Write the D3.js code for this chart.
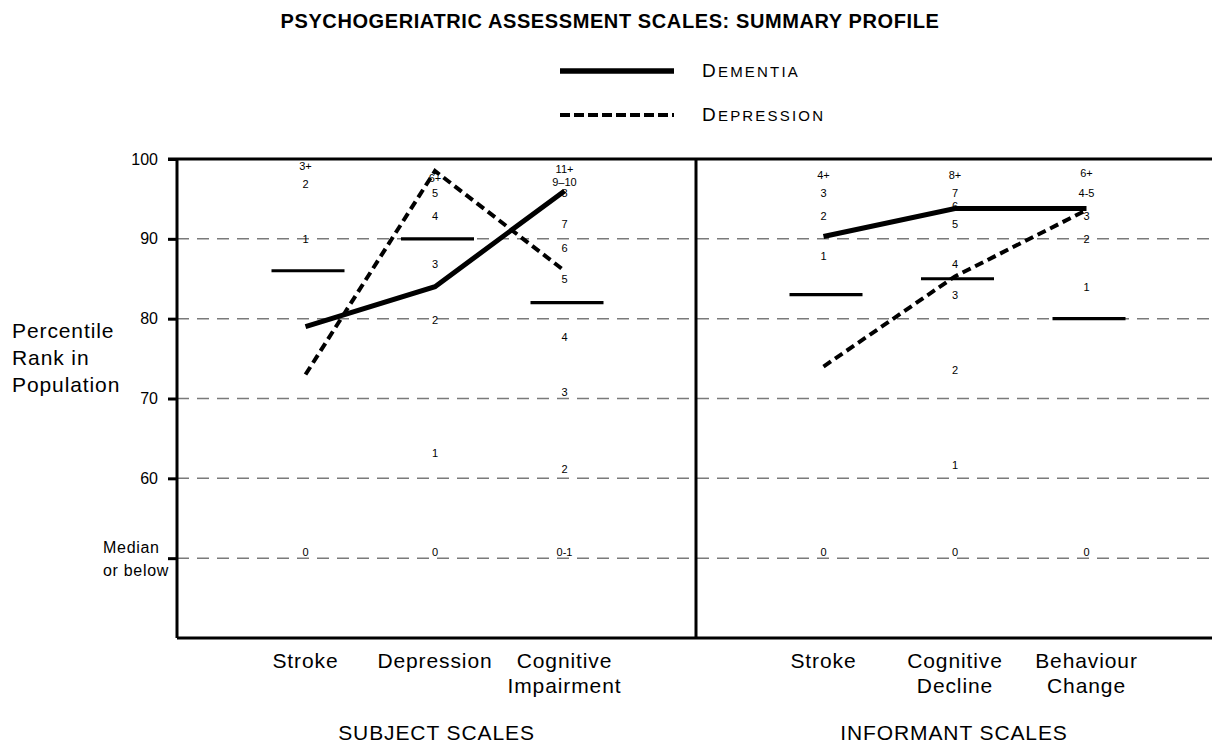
<!DOCTYPE html>
<html>
<head>
<meta charset="utf-8">
<script src="https://cdn.jsdelivr.net/npm/d3@7"></script>
<style>
  body { margin: 0; background: #fff; }
  text { font-family: "Liberation Sans", Arial, sans-serif; fill: #000; }
</style>
</head>
<body>
<svg id="chart" width="1218" height="745"></svg>
<script>
// scales on each side of the profile
var subjectScales = ['Stroke', 'Depression', 'Cognitive Impairment'];
var informantScales = ['Stroke', 'Cognitive Decline', 'Behaviour Change'];

// percentile rank of the two diagnostic profiles
var subjectDementia = [79, 84, 96];
var subjectDepression = [73, 98.5, 86];
var informantDementia = [90.3, 93.8, 93.8];
var informantDepression = [74, 85.3, 93.6];

// short horizontal cut-off bars
var subjectCutoffs = [86, 90, 82];
var informantCutoffs = [83, 85, 80];

// raw scores printed at their percentile
var subjectScores = [
	[['3+', 99.1], ['2', 96.8], ['1', 90], ['0', 50.8]],
	[['6+', 97.6], ['5', 95.7], ['4', 92.9], ['3', 86.8], ['2', 79.8], ['1', 63.1], ['0', 50.8]],
	[['11+', 98.7], ['9\u201310', 97.1], ['8', 95.7], ['7', 91.9], ['6', 88.8], ['5', 84.9],
	 ['4', 77.7], ['3', 70.8], ['2', 61.1], ['0-1', 50.8]]
];
var informantScores = [
	[['4+', 98], ['3', 95.7], ['2', 92.9], ['1', 87.8], ['0', 50.8]],
	[['8+', 98], ['7', 95.7], ['6', 94.1], ['5', 91.9], ['4', 86.8], ['3', 82.9], ['2', 73.6],
	 ['1', 61.7], ['0', 50.8]],
	[['6+', 98.2], ['4-5', 95.7], ['3', 92.9], ['2', 90], ['1', 84], ['0', 50.8]]
];

var yTicks = [50, 60, 70, 80, 90, 100];
var yTickLabels = ['', '60', '70', '80', '90', '100'];
var medianLabel = ['Median', 'or below'];
var yTitle = ['Percentile', 'Rank in', 'Population'];
var groupLabels = ['SUBJECT SCALES', 'INFORMANT SCALES'];

var svg = d3.select('#chart');

// plot frame ('top' is taken by window.top, so prefix these)
var plotLeft = 177, plotMid = 696, plotRight = 1212, plotTop = 159, plotBottom = 638;

var y = d3.scaleLinear().domain([40, 100]).range([plotBottom, plotTop]);
var xSubject = d3.scalePoint().domain(subjectScales).range([176, 694]).padding(1);
var xInformant = d3.scalePoint().domain(informantScales).range([692, 1218]).padding(1);

// title
svg.append('text')
	.attr('x', 610).attr('y', 28)
	.attr('text-anchor', 'middle')
	.attr('font-size', 20).attr('font-weight', 'bold')
	.attr('letter-spacing', 0.6)
	.text('PSYCHOGERIATRIC ASSESSMENT SCALES: SUMMARY PROFILE');

// legend
var legend = [
	{ name: 'DEMENTIA', dash: null, y: 71 },
	{ name: 'DEPRESSION', dash: '10,4', y: 115 }
];
legend.forEach(function(d){
	svg.append('line')
		.attr('x1', 560).attr('x2', 674)
		.attr('y1', d.y).attr('y2', d.y)
		.attr('stroke', '#000')
		.attr('stroke-width', d.dash ? 4 : 5.5)
		.attr('stroke-dasharray', d.dash);
	var t = svg.append('text')
		.attr('x', 702).attr('y', d.y + 6)
		.attr('letter-spacing', 2.2);
	t.append('tspan').attr('font-size', 19).text(d.name[0]);
	t.append('tspan').attr('font-size', 15).text(d.name.slice(1));
});

// grid
svg.append('g')
	.selectAll('line')
	.data(yTicks.filter(function(d){ return d < 100; }))
	.join('line')
	.attr('x1', plotLeft).attr('x2', 1210)
	.attr('y1', function(d){ return y(d); })
	.attr('y2', function(d){ return y(d); })
	.attr('stroke', '#7a7a7a')
	.attr('stroke-width', 1.5)
	.attr('stroke-dasharray', '12,8');

// score labels
function drawScores(scale, cats, scores){
	cats.forEach(function(cat, i){
		svg.append('g')
			.selectAll('text')
			.data(scores[i])
			.join('text')
			.attr('x', scale(cat))
			.attr('y', function(d){ return y(d[1]); })
			.attr('dy', '0.35em')
			.attr('text-anchor', 'middle')
			.attr('font-size', 11)
			.text(function(d){ return d[0]; });
	});
}
drawScores(xSubject, subjectScales, subjectScores);
drawScores(xInformant, informantScales, informantScores);

// y axis
var yAxis = d3.axisLeft(y)
	.tickValues(yTicks)
	.tickSize(9)
	.tickPadding(10)
	.tickFormat(function(d, i){ return yTickLabels[i]; });

var axisG = svg.append('g')
	.attr('transform', 'translate(' + plotLeft + ',0)')
	.call(yAxis);
axisG.select('.domain').remove();
axisG.selectAll('.tick line').attr('stroke', '#000').attr('stroke-width', 3);
axisG.selectAll('.tick text')
	.attr('font-size', 16)
	.attr('font-family', '"Liberation Sans", Arial, sans-serif')
	.attr('fill', '#000');

svg.append('text')
	.attr('x', 103).attr('y', y(50) - 5)
	.attr('font-size', 16).attr('letter-spacing', 0.7)
	.selectAll('tspan')
	.data(medianLabel)
	.join('tspan')
	.attr('x', 103)
	.attr('dy', function(d, i){ return i ? 23 : 0; })
	.text(function(d){ return d; });

svg.append('text')
	.attr('x', 12).attr('y', 338)
	.attr('font-size', 21).attr('letter-spacing', 0.9)
	.selectAll('tspan')
	.data(yTitle)
	.join('tspan')
	.attr('x', 12)
	.attr('dy', function(d, i){ return i ? 27 : 0; })
	.text(function(d){ return d; });

// frame
var frame = svg.append('g').attr('stroke', '#000').attr('stroke-width', 3);
frame.append('line').attr('x1', 168).attr('x2', plotRight).attr('y1', plotTop).attr('y2', plotTop);
frame.append('line').attr('x1', plotLeft).attr('x2', plotRight).attr('y1', plotBottom).attr('y2', plotBottom);
frame.append('line').attr('x1', plotLeft).attr('x2', plotLeft).attr('y1', plotTop).attr('y2', plotBottom);
frame.append('line').attr('x1', plotMid).attr('x2', plotMid).attr('y1', plotTop).attr('y2', plotBottom);

// cut-off bars
function drawCutoffs(scale, cats, vals){
	svg.append('g')
		.selectAll('line')
		.data(vals)
		.join('line')
		.attr('x1', function(d, i){ return scale(cats[i]) - 34; })
		.attr('x2', function(d, i){ return scale(cats[i]) + 39; })
		.attr('y1', function(d){ return y(d); })
		.attr('y2', function(d){ return y(d); })
		.attr('stroke', '#000')
		.attr('stroke-width', 3.2);
}
drawCutoffs(xSubject, subjectScales, subjectCutoffs);
drawCutoffs(xInformant, informantScales, informantCutoffs);

// profile lines
function drawProfile(scale, cats, vals, dash){
	var line = d3.line()
		.x(function(d, i){ return scale(cats[i]); })
		.y(function(d){ return y(d); });
	svg.append('path')
		.datum(vals)
		.attr('d', line)
		.attr('fill', 'none')
		.attr('stroke', '#000')
		.attr('stroke-width', dash ? 4 : 5)
		.attr('stroke-dasharray', dash);
}
drawProfile(xSubject, subjectScales, subjectDementia, null);
drawProfile(xSubject, subjectScales, subjectDepression, '9,5');
drawProfile(xInformant, informantScales, informantDementia, null);
drawProfile(xInformant, informantScales, informantDepression, '9,5');

// category labels
function drawCats(scale, cats){
	cats.forEach(function(cat){
		var words = cat.split(' ');
		svg.append('text')
			.attr('text-anchor', 'middle')
			.attr('font-size', 21).attr('letter-spacing', 0.9)
			.selectAll('tspan')
			.data(words)
			.join('tspan')
			.attr('x', scale(cat))
			.attr('y', function(d, i){ return 668 + i * 25; })
			.text(function(d){ return d; });
	});
}
drawCats(xSubject, subjectScales);
drawCats(xInformant, informantScales);

svg.selectAll('.group')
	.data(groupLabels)
	.join('text')
	.attr('class', 'group')
	.attr('x', function(d, i){ return i ? (plotMid + plotRight) / 2 : (plotLeft + plotMid) / 2; })
	.attr('y', 740)
	.attr('text-anchor', 'middle')
	.attr('font-size', 21).attr('letter-spacing', 0.9)
	.text(function(d){ return d; });
</script>
</body>
</html>
